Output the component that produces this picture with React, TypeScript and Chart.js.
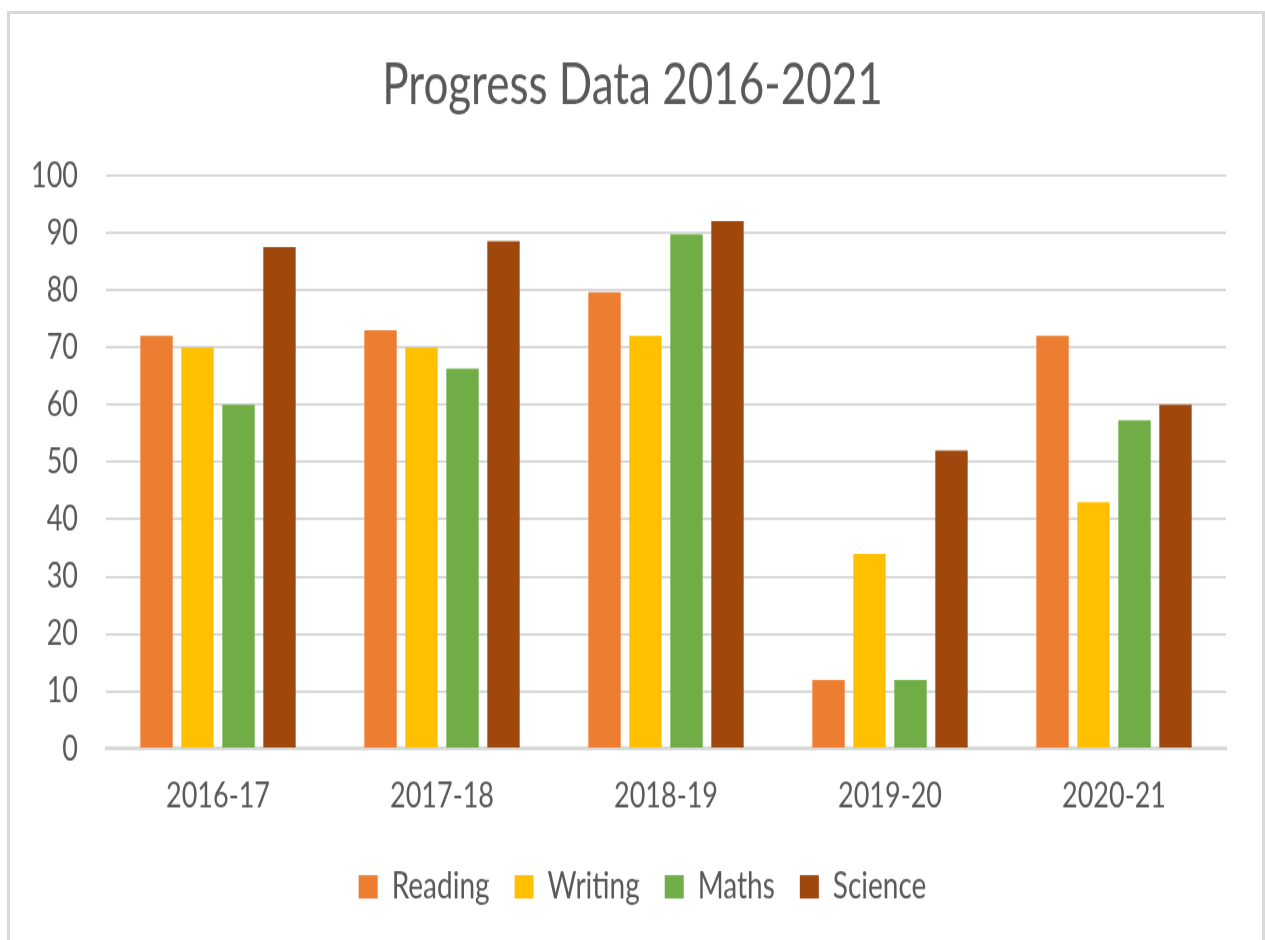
import React, { useEffect, useRef } from "react";
import { Chart, registerables } from "chart.js";

Chart.register(...registerables);

const titleText = "Progress Data 2016-2021";
const categories = ["2016-17", "2017-18", "2018-19", "2019-20", "2020-21"];
const seriesNames = ["Reading", "Writing", "Maths", "Science"];
const reading = [72, 73, 79.6, 12, 72];
const writing = [70, 70, 72, 34, 43];
const maths = [60, 66.3, 89.7, 12, 57.3];
const science = [87.5, 88.5, 92, 52, 60];
const seriesColors = ["#ED7D31", "#FFC000", "#70AD47", "#9E480E"];
const yMin = 0;
const yMax = 100;
const yStep = 10;

const CANVAS_W = 1265;
const CANVAS_H = 723;
const PAGE_H = 940;

const legendShift = {
  id: "legendShift",
  afterLayout(chart: any) {
    const lg = chart.legend;
    if (lg) {
      lg.left += 10;
      lg.right += 10;
    }
  },
};

export default function App() {
  const ref = useRef<HTMLCanvasElement>(null);

  useEffect(() => {
    if (!ref.current) return;
    const values = [reading, writing, maths, science];
    const chart = new Chart(ref.current, {
      type: "bar",
      data: {
        labels: categories,
        datasets: seriesNames.map((name, i) => ({
          label: name,
          data: values[i],
          backgroundColor: seriesColors[i],
          borderWidth: 0,
          categoryPercentage: 0.732,
          barPercentage: 0.79,
        })),
      },
      plugins: [legendShift],
      options: {
        animation: false,
        responsive: false,
        devicePixelRatio: 1,
        font: { family: "Lato" },
        layout: { padding: { top: 0, left: 0, right: 0, bottom: 16.9 } },
        plugins: {
          title: {
            display: true,
            text: titleText,
            color: "#595959",
            font: { size: 44, weight: "normal", family: "Lato", lineHeight: 1.2 },
            padding: { top: 39, bottom: 43 },
          },
          legend: {
            position: "bottom",
            labels: {
              boxWidth: 19,
              boxHeight: 18,
              padding: 25,
              color: "#595959",
              font: { size: 28, family: "Lato" },
            },
          },
          tooltip: { enabled: false },
        },
        scales: {
          x: {
            grid: { display: false, drawTicks: false },
            border: { display: true, color: "#d9d9d9", width: 3 },
            ticks: {
              color: "#595959",
              font: { size: 27, family: "Lato" },
              padding: 20.2,
              maxRotation: 0,
            },
            afterFit: (s: any) => {
              s.height = 67.2;
            },
          },
          y: {
            min: yMin,
            max: yMax,
            ticks: {
              stepSize: yStep,
              color: "#595959",
              font: { size: 27, family: "Lato" },
              padding: 28,
            },
            grid: { color: "#d9d9d9", lineWidth: 2, drawTicks: false },
            border: { display: false },
            afterFit: (s: any) => {
              s.width = 106;
            },
          },
          yR: {
            position: "right",
            display: true,
            grid: { display: false, drawTicks: false },
            border: { display: false },
            ticks: { display: false },
            afterFit: (s: any) => {
              s.width = 39;
            },
          },
        },
      },
    } as any);
    return () => chart.destroy();
  }, []);

  return (
    <div
      style={{
        position: "fixed",
        left: 0,
        top: 0,
        width: CANVAS_W,
        height: PAGE_H,
        overflow: "hidden",
        background: "#ffffff",
      }}
    >
      <div
        style={{
          position: "absolute",
          left: 7,
          top: 11,
          width: 1258,
          height: PAGE_H,
          boxSizing: "border-box",
          border: "3px solid #d9d9d9",
          borderBottom: "none",
        }}
      />
      <canvas
        ref={ref}
        width={CANVAS_W}
        height={CANVAS_H}
        style={{
          position: "absolute",
          left: 0,
          top: 0,
          transform: `scaleY(${PAGE_H / CANVAS_H})`,
          transformOrigin: "0 0",
        }}
      />
    </div>
  );
}
